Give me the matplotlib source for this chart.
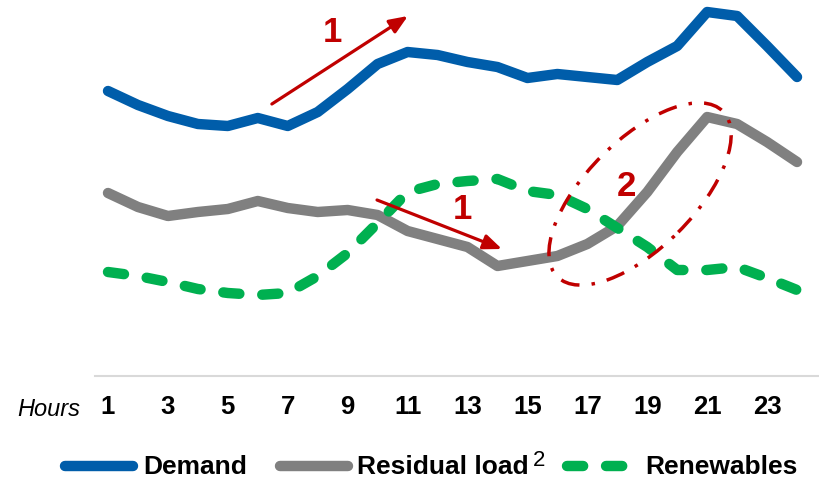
import matplotlib
matplotlib.use("Agg")
import matplotlib.pyplot as plt
import matplotlib.transforms as mtransforms
from matplotlib.patches import Ellipse
from matplotlib.lines import Line2D

plt.rcParams['font.family'] = ['Liberation Sans', 'DejaVu Sans']

hours = list(range(1, 25))
tick_hours = list(range(1, 24, 2))

demand = [57.0, 54.2, 52.0, 50.4, 50.0, 51.6, 50.0, 52.8, 57.4, 62.4, 64.8, 64.2,
          62.8, 61.8, 59.6, 60.4, 59.8, 59.2, 62.8, 66.0, 72.8, 72.0, 66.0, 59.8]
residual = [36.6, 33.8, 32.0, 32.8, 33.4, 35.0, 33.6, 32.8, 33.2, 32.2, 29.0, 27.4,
            25.8, 22.0, 23.0, 24.0, 26.4, 30.0, 36.8, 44.8, 51.8, 50.4, 46.8, 42.8]
renewables = [20.8, 20.0, 18.8, 17.4, 16.6, 16.2, 16.6, 20.0, 24.6, 30.6, 36.8, 38.4,
              39.0, 39.4, 37.0, 36.2, 33.4, 29.6, 25.8, 21.2, 21.2, 21.8, 19.6, 17.2]

BLUE = "#005DAA"
GREY = "#808080"
GREEN = "#00B050"
RED = "#C00000"
LW = 7.5
GREEN_DASH = (0, (1.55, 2.2))

fig = plt.figure(figsize=(8.2, 4.81), dpi=100)
ax = fig.add_axes((95 / 820, 104 / 481, 723 / 820, 377 / 481))

ax.plot(hours, demand, color=BLUE, lw=LW, solid_capstyle="round", solid_joinstyle="round")
ax.plot(hours, residual, color=GREY, lw=LW, solid_capstyle="round", solid_joinstyle="round")
ax.plot(hours, renewables, color=GREEN, lw=LW, linestyle=GREEN_DASH,
        dash_capstyle="round", dash_joinstyle="round")

ax.set_xlim(0.566, 24.70)
ax.set_ylim(0, 75.4)
for side in ("top", "left", "right"):
    ax.spines[side].set_visible(False)
ax.spines["bottom"].set_color("#D9D9D9")
ax.spines["bottom"].set_linewidth(1.5)
ax.set_yticks([])
ax.set_xticks(tick_hours)
ax.set_xticklabels([str(h) for h in tick_hours], fontsize=18.5, fontweight="bold")
ax.tick_params(axis="x", length=0, pad=13)

fig.text(17 / 820, 1 - 410 / 481, "Hours", fontsize=17, style="italic", ha="left", va="center")

# annotations: shift arrows and the evening ramp
arrow = dict(arrowstyle="-|>,head_length=1.1,head_width=0.45", mutation_scale=10,
             lw=2.3, color=RED, shrinkA=0, shrinkB=0)
ax.annotate("", xy=(11.01, 72.0), xytext=(6.47, 54.4), arrowprops=arrow)
ax.annotate("", xy=(14.15, 25.4), xytext=(9.98, 35.2), arrowprops=arrow)
ax.text(8.48, 68.8, "1", color=RED, fontsize=25, fontweight="bold", ha="center", va="center")
ax.text(12.82, 33.4, "1", color=RED, fontsize=25, fontweight="bold", ha="center", va="center")
ax.text(18.29, 38.0, "2", color=RED, fontsize=25, fontweight="bold", ha="center", va="center")

cx, cy = ax.transData.transform((18.76, 36.4))
ell = Ellipse((cx, cy), 234, 108, angle=45, fill=False, edgecolor=RED, lw=2.5,
              linestyle=(0, (5.5, 3.5, 1, 3.5)), transform=mtransforms.IdentityTransform())
fig.add_artist(ell)

# legend row along the bottom
ly = 1 - 467 / 481
def px(x):
    return x / 820

fig.add_artist(Line2D([px(65), px(133)], [ly, ly], color=BLUE, lw=LW,
                      solid_capstyle="round", transform=fig.transFigure))
fig.text(px(143), ly, "Demand", fontsize=19, fontweight="bold", va="center", ha="left")
fig.add_artist(Line2D([px(280), px(348)], [ly, ly], color=GREY, lw=LW,
                      solid_capstyle="round", transform=fig.transFigure))
fig.text(px(357), ly, "Residual load", fontsize=19, fontweight="bold", va="center", ha="left")
fig.text(px(533), 1 - 461 / 481, "2", fontsize=16, va="center", ha="left")
fig.add_artist(Line2D([px(567), px(627)], [ly, ly], color=GREEN, lw=LW,
                      linestyle=GREEN_DASH, dash_capstyle="round", transform=fig.transFigure))
fig.text(px(645), ly, "Renewables", fontsize=19, fontweight="bold", va="center", ha="left")

fig.savefig("out.png", dpi=100)
